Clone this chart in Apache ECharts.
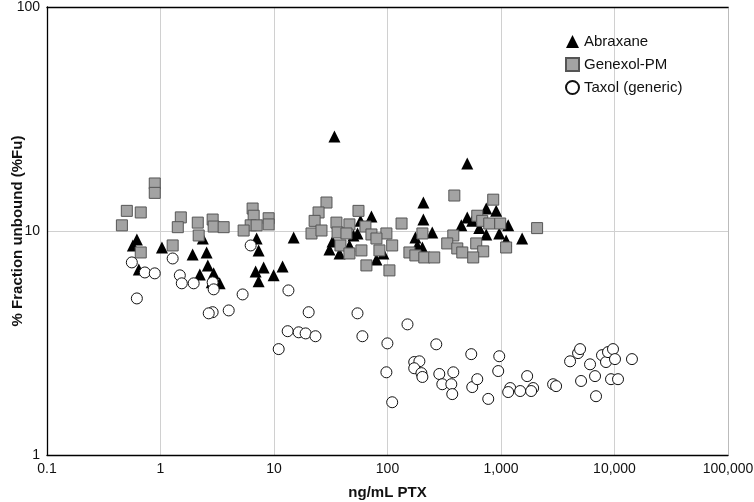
<!DOCTYPE html>
<html>
<head>
<meta charset="utf-8">
<script src="https://cdn.jsdelivr.net/npm/echarts@6/dist/echarts.min.js"></script>
<style>html,body{margin:0;padding:0;background:#fff}#c{width:754px;height:502px}</style>
</head>
<body>
<div id="c"></div>
<script>
// x: ng/mL PTX, y: % fraction unbound
const abraxaneX = [0.619,0.571,0.644,1.03,1.92,2.55,2.61,2.22,2.94,2.83,3.32,2.36,7.03,7.32,6.89,8.10,7.32,9.92,11.9,14.9,34.1,72.2,57.8,54.4,32.8,30.8,37.8,79.9,92.0,46.2,50.1,504,207,207,248,176,183,203,447,504,558,741,907,643,741,965,1157,1110,1536];
const abraxaneY = [9.17,8.62,6.74,8.44,7.86,8.02,7.02,6.40,6.47,5.90,5.84,9.26,9.26,8.19,6.60,6.88,5.96,6.34,6.95,9.36,26.4,11.6,11.1,9.75,8.98,8.27,7.94,7.47,7.94,8.62,9.55,20.0,13.4,11.25,9.85,9.36,8.62,8.44,10.6,11.5,11.1,12.6,12.3,10.3,9.65,9.75,10.6,9.07,9.26];

const genexolX = [0.89,0.89,0.505,0.67,0.457,0.67,1.28,1.51,1.42,2.13,2.88,2.94,3.60,2.17,6.48,6.62,6.23,7.03,5.40,8.97,8.97,29.0,24.7,22.8,21.4,26.2,35.5,55.5,46.2,63.9,36.3,43.5,72.2,97.8,79.9,110,38.5,58.9,46.2,84.9,65.2,104,133,203,156,176,211,258,388,380,336,412,456,605,697,569,618,683,788,854,984,1110,2080];
const genexolY = [16.3,14.8,12.3,12.1,10.6,8.02,8.62,11.5,10.4,10.9,11.25,10.47,10.4,9.55,12.6,11.7,10.6,10.6,10.05,11.4,10.7,13.4,12.1,11.1,9.75,10.05,10.9,12.3,10.7,10.47,9.85,9.75,9.65,9.75,9.26,8.62,8.62,8.19,7.94,8.19,7.02,6.67,10.8,9.75,8.02,7.78,7.62,7.62,14.4,9.55,8.80,8.36,8.02,8.80,8.11,7.62,11.7,11.1,10.8,13.8,10.8,8.44,10.3];

const taxolX = [6.23,1.28,0.559,0.728,0.89,1.48,1.54,1.96,2.88,2.94,0.619,5.29,3.99,2.88,2.66,13.4,13.2,11.0,20.2,16.5,19.0,23.2,54.4,60.1,150,99.8,97.8,110,269,172,191,172,199,203,286,380,304,365,372,547,558,618,772,965,945,1205,1157,1475,1700,1920,1843,2878,3058,4061,4775,4973,6089,6738,5075,6875,7762,8418,8766,9700,10100,9316,10740,14250];
const taxolY = [8.62,7.54,7.24,6.53,6.47,6.34,5.84,5.84,5.90,5.49,5.00,5.21,4.42,4.34,4.29,5.43,3.57,2.97,4.34,3.53,3.49,3.39,4.29,3.39,3.83,3.15,2.34,1.72,3.12,2.60,2.62,2.44,2.32,2.23,2.30,2.34,2.07,2.07,1.87,2.82,2.01,2.18,1.78,2.76,2.37,1.99,1.91,1.93,2.25,1.99,1.93,2.07,2.03,2.62,2.85,2.97,2.54,2.25,2.14,1.83,2.79,2.60,2.88,2.97,2.68,2.18,2.18,2.68];

const seriesNames = ['Abraxane','Genexol-PM','Taxol (generic)'];
const xTicks = ['0.1','1','10','100','1,000','10,000','100,000'];
const yTicks = ['1','10','100'];

function zip(xs, ys){ return xs.map((x,i)=>[x, ys[i]]); }
function fmtX(v){
  const e = Math.round(Math.log10(v));
  return xTicks[e + 1] !== undefined ? xTicks[e + 1] : String(v);
}
function fmtY(v){
  const e = Math.round(Math.log10(v));
  return yTicks[e] !== undefined ? yTicks[e] : String(v);
}

const chart = echarts.init(document.getElementById('c'), null, {renderer:'canvas'});
const font = 'Liberation Sans, Arial, Helvetica, sans-serif';
chart.setOption({
  animation: false,
  backgroundColor: '#fff',
  textStyle: { fontFamily: font },
  grid: { left: 47, right: 26, top: 7, bottom: 47, containLabel: false, outerBoundsMode: 'none' },
  legend: {
    orient: 'vertical', left: 560, top: 29,
    itemWidth: 13, itemHeight: 13, itemGap: 8,
    textStyle: { fontFamily: font, fontSize: 15, color: '#111' },
    data: seriesNames
  },
  xAxis: [{
    type: 'log', logBase: 10, min: 0.1, max: 100000,
    name: 'ng/mL PTX', nameLocation: 'middle', nameGap: 30, nameMoveOverlap: false,
    nameTextStyle: { fontFamily: font, fontSize: 15, fontWeight: 'bold', color: '#111' },
    axisLine: { show: true, onZero: false, lineStyle: { color: '#000', width: 1.3 } },
    axisTick: { show: false },
    axisLabel: { formatter: fmtX, fontFamily: font, fontSize: 14, color: '#111', margin: 7 },
    splitLine: { show: true, lineStyle: { color: '#d0d0d0', width: 1 } },
    minorTick: { show: false }
  },{
    type: 'log', logBase: 10, min: 0.1, max: 100000, position: 'top',
    axisLine: { show: true, onZero: false, lineStyle: { color: '#000', width: 1.3 } },
    axisTick: { show: false }, axisLabel: { show: false }, splitLine: { show: false }
  }],
  yAxis: [{
    type: 'log', logBase: 10, min: 1, max: 100,
    name: '% Fraction unbound (%Fu)', nameLocation: 'middle', nameGap: 22, nameMoveOverlap: false,
    nameTextStyle: { fontFamily: font, fontSize: 15, fontWeight: 'bold', color: '#111' },
    axisLine: { show: true, onZero: false, lineStyle: { color: '#000', width: 1.3 } },
    axisTick: { show: false },
    axisLabel: { formatter: fmtY, fontFamily: font, fontSize: 14, color: '#111', margin: 7 },
    splitLine: { show: true, lineStyle: { color: '#d0d0d0', width: 1 } }
  },{
    type: 'log', logBase: 10, min: 1, max: 100, position: 'right',
    axisLine: { show: true, onZero: false, lineStyle: { color: '#bbb', width: 1 } },
    axisTick: { show: false }, axisLabel: { show: false }, splitLine: { show: false }
  }],
  series: [
    { name: seriesNames[0], type: 'scatter', symbol: 'triangle', symbolSize: 12,
      itemStyle: { color: '#000', opacity: 1 }, data: zip(abraxaneX, abraxaneY), z: 2 },
    { name: seriesNames[1], type: 'scatter', symbol: 'rect', symbolSize: 11,
      itemStyle: { color: '#a3a3a3', borderColor: '#555', borderWidth: 1, opacity: 1 }, data: zip(genexolX, genexolY), z: 3 },
    { name: seriesNames[2], type: 'scatter', symbol: 'circle', symbolSize: 11,
      itemStyle: { color: '#fff', borderColor: '#111', borderWidth: 1, opacity: 1 }, data: zip(taxolX, taxolY), z: 4 }
  ]
});
</script>
</body>
</html>
